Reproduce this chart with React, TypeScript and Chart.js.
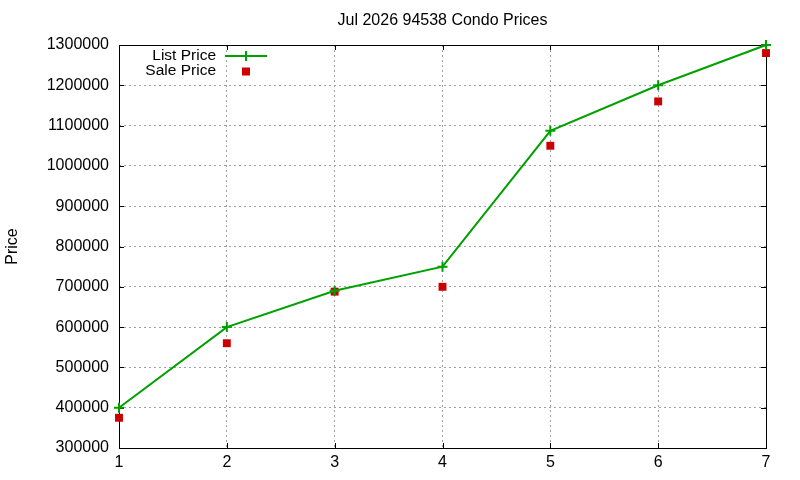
import React, { useEffect, useRef } from "react";
import { Chart, registerables } from "chart.js";

Chart.register(...registerables);

const titleText = "Jul 2026 94538 Condo Prices";
const yAxisTitle = "Price";
const months = [1, 2, 3, 4, 5, 6, 7];
const listPrices = [400000, 600000, 690000, 750000, 1087000, 1200000, 1300000];
const salePrices = [375000, 560000, 688000, 700000, 1050000, 1160000, 1280000];
const listLabel = "List Price";
const saleLabel = "Sale Price";

const GREEN = "#00a000";
const RED = "#cc0000";
const FONT = "'Liberation Sans', Arial, sans-serif";

const framePlugin = {
  id: "gnuFrame",
  beforeDatasetsDraw(chart: any) {
    const { ctx, chartArea } = chart;
    const { left, right, top, bottom } = chartArea;
    const xs = chart.scales.x;
    const ys = chart.scales.y;
    ctx.save();
    ctx.strokeStyle = "#000";
    ctx.lineWidth = 1;
    ctx.setLineDash([]);
    ctx.beginPath();
    const L = 5;
    ys.ticks.forEach((t: any) => {
      const y = Math.round(ys.getPixelForValue(t.value)) + 0.5;
      ctx.moveTo(left, y);
      ctx.lineTo(left + L, y);
      ctx.moveTo(right, y);
      ctx.lineTo(right - L, y);
    });
    xs.ticks.forEach((t: any) => {
      const x = Math.round(xs.getPixelForValue(t.value)) + 0.5;
      ctx.moveTo(x, bottom);
      ctx.lineTo(x, bottom - L);
      ctx.moveTo(x, top);
      ctx.lineTo(x, top + L);
    });
    ctx.stroke();
    ctx.strokeRect(
      Math.round(left) + 0.5,
      Math.round(top) + 0.5,
      Math.round(right - left),
      Math.round(bottom - top)
    );
    ctx.restore();
  },
  afterDraw(chart: any) {
    const { ctx, chartArea } = chart;
    const x0 = chartArea.left;
    const y0 = chartArea.top;
    ctx.save();
    // title, centred over the plot area
    ctx.font = `16px ${FONT}`;
    ctx.fillStyle = "#000";
    ctx.textAlign = "center";
    ctx.textBaseline = "middle";
    ctx.fillText(titleText, (chartArea.left + chartArea.right) / 2, 21);

    // legend
    const textRight = x0 + 97;
    const sampleL = x0 + 106;
    const sampleR = x0 + 148;
    const mid = (sampleL + sampleR) / 2;
    const y1 = y0 + 11;
    const y2 = y0 + 26;
    ctx.font = `15.5px ${FONT}`;
    ctx.textAlign = "right";
    ctx.fillText(listLabel, textRight, y1);
    ctx.fillText(saleLabel, textRight, y2);
    ctx.strokeStyle = GREEN;
    ctx.lineWidth = 2;
    ctx.beginPath();
    ctx.moveTo(sampleL, y1);
    ctx.lineTo(sampleR, y1);
    ctx.moveTo(mid, y1 - 5);
    ctx.lineTo(mid, y1 + 5);
    ctx.stroke();
    ctx.fillStyle = RED;
    ctx.fillRect(mid - 4, y2 - 3.5, 8, 8);
    ctx.restore();
  },
};

export default function App() {
  const ref = useRef<HTMLCanvasElement | null>(null);
  useEffect(() => {
    if (!ref.current) return;
    const chart = new Chart(ref.current, {
      type: "line",
      data: {
        datasets: [
          {
            label: listLabel,
            data: months.map((m, i) => ({ x: m, y: listPrices[i] })),
            borderColor: GREEN,
            backgroundColor: GREEN,
            borderWidth: 2,
            pointStyle: "cross",
            pointRadius: 5,
            pointBorderWidth: 2,
            pointBorderColor: GREEN,
            tension: 0,
            clip: false as any,
          },
          {
            label: saleLabel,
            data: months.map((m, i) => ({ x: m, y: salePrices[i] })),
            showLine: false,
            borderColor: RED,
            backgroundColor: RED,
            pointStyle: "rect",
            pointRadius: 5.6,
            pointBorderWidth: 0,
            clip: false as any,
          },
        ],
      },
      options: {
        responsive: false,
        animation: false,
        devicePixelRatio: 1,
        layout: { padding: { left: 0, right: 34, top: 45, bottom: 0 } },
        plugins: {
          legend: { display: false },
          tooltip: { enabled: false },
          title: { display: false },
        },
        scales: {
          x: {
            type: "linear",
            min: 1,
            max: 7,
            afterFit: (s: any) => {
              s.height = 32;
            },
            ticks: {
              stepSize: 1,
              color: "#000",
              padding: 5,
              font: { family: FONT, size: 16 },
            },
            grid: {
              color: "#a0a0a0",
              lineWidth: 1,
              drawTicks: false,
            },
            border: { display: false, dash: [2, 3] },
          },
          y: {
            type: "linear",
            min: 300000,
            max: 1300000,
            afterFit: (s: any) => {
              s.width = 119;
            },
            title: {
              display: true,
              text: yAxisTitle,
              color: "#000",
              font: { family: FONT, size: 16 },
              padding: { top: 3, bottom: 0 },
            },
            ticks: {
              stepSize: 100000,
              color: "#000",
              padding: 10,
              font: { family: FONT, size: 16 },
              callback: (v: any) => String(v),
            },
            grid: {
              color: "#a0a0a0",
              lineWidth: 1,
              drawTicks: false,
            },
            border: { display: false, dash: [2, 3] },
          },
        },
      },
      plugins: [framePlugin],
    });
    return () => chart.destroy();
  }, []);
  return (
    <div style={{ position: "fixed", left: 0, top: 0, width: 800, height: 480, background: "#fff" }}>
      <canvas ref={ref} width={800} height={480} style={{ width: 800, height: 480 }} />
    </div>
  );
}
